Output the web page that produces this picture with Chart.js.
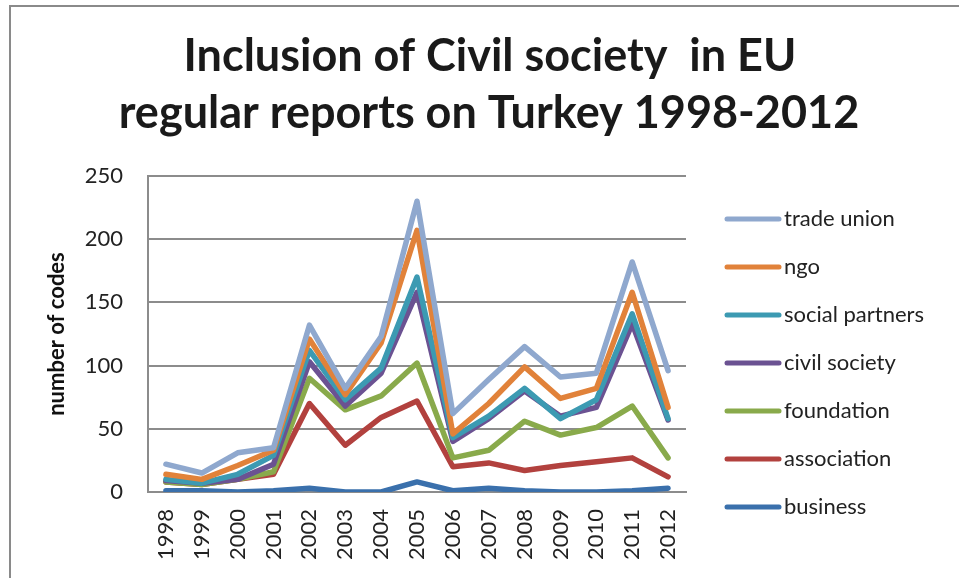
<!DOCTYPE html>
<html>
<head>
<meta charset="utf-8">
<script src="https://cdn.jsdelivr.net/npm/chart.js@4"></script>
<style>
  html, body { margin: 0; padding: 0; background: #fff; }
  #wrap { position: relative; width: 959px; height: 578px; }
  #frame { position: absolute; left: 9px; top: 5px; right: 0; bottom: 0;
           border-left: 2px solid #8a8a8a; border-top: 2px solid #8a8a8a; }
  canvas { position: absolute; left: 0; top: 0; }
</style>
</head>
<body>
<div id="wrap">
  <div id="frame"></div>
  <canvas id="chart" width="959" height="578"></canvas>
</div>
<script>
var years = ['1998', '1999', '2000', '2001', '2002', '2003', '2004', '2005',
             '2006', '2007', '2008', '2009', '2010', '2011', '2012'];

var tradeUnion     = [22, 15, 31, 35, 132, 82, 123, 230, 62, 89, 115, 91, 94, 182, 96];
var ngo            = [14, 10, 21, 33, 121, 77, 118, 207, 46, 70, 99, 74, 82, 158, 67];
var socialPartners = [10, 7, 14, 29, 112, 73, 98, 170, 43, 60, 82, 58, 73, 141, 58];
var civilSociety   = [9, 7, 10, 22, 103, 68, 94, 158, 40, 58, 80, 60, 67, 133, 57];
var foundation     = [8, 6, 10, 16, 90, 65, 76, 102, 27, 33, 56, 45, 51, 68, 27];
var association    = [8, 6, 10, 14, 70, 37, 59, 72, 20, 23, 17, 21, 24, 27, 12];
var business       = [1, 1, 0, 1, 3, 0, 0, 8, 1, 3, 1, 0, 0, 1, 3];

var seriesNames = ['trade union', 'ngo', 'social partners', 'civil society',
                   'foundation', 'association', 'business'];
var seriesData = [tradeUnion, ngo, socialPartners, civilSociety, foundation, association, business];
var seriesColors = ['#8FA8CE', '#E1823A', '#3C9AB2', '#6B5292', '#89AA4B', '#B2413E', '#3A70AC'];

var titleLines = ['Inclusion of Civil society  in EU', 'regular reports on Turkey 1998-2012'];
var yTicks = [0, 50, 100, 150, 200, 250];

var datasets = [];
for (var i = 0; i < seriesNames.length; i++) {
    datasets.push({
        label: seriesNames[i],
        data: seriesData[i],
        borderColor: seriesColors[i],
        backgroundColor: seriesColors[i],
        borderWidth: 5.5,
        pointRadius: 0,
        tension: 0,
        borderCapStyle: 'round',
        borderJoinStyle: 'round'
    });
}

// title centred on the whole picture, not just the plot
var bigTitle = {
    id: 'bigTitle',
    afterDraw: function(chart) {
        var c = chart.ctx;
        c.save();
        c.font = 'bold 45px Lato';
        c.fillStyle = '#1a1a1a';
        c.textAlign = 'center';
        c.textBaseline = 'alphabetic';
        c.fillText(titleLines[0], 490, 71);
        c.fillText(titleLines[1], 489, 128);
        c.restore();
    }
};

// legend drawn by hand so the line samples sit like the original
var sideLegend = {
    id: 'sideLegend',
    afterDraw: function(chart) {
        var c = chart.ctx;
        c.save();
        c.font = '22px Lato';
        c.textBaseline = 'middle';
        c.textAlign = 'left';
        chart.data.datasets.forEach(function(ds, i) {
            var y = 219 + i * 48;
            c.strokeStyle = ds.borderColor;
            c.lineWidth = 5;
            c.lineCap = 'round';
            c.beginPath();
            c.moveTo(727, y);
            c.lineTo(779, y);
            c.stroke();
            c.fillStyle = '#222';
            c.fillText(ds.label, 784, y);
        });
        c.restore();
    }
};

var ctx = document.getElementById('chart').getContext('2d');
var myChart = new Chart(ctx, {
    type: 'line',
    data: { labels: years, datasets: datasets },
    plugins: [bigTitle, sideLegend],
    options: {
        responsive: false,
        animation: false,
        layout: { padding: { left: 14, right: 273, top: 176, bottom: 0 } },
        plugins: {
            legend: { display: false },
            tooltip: { enabled: false },
            title: { display: false }
        },
        scales: {
            x: {
                offset: true,
                grid: { display: false, drawTicks: false },
                border: { display: true, color: '#8c8c8c', width: 2 },
                ticks: {
                    color: '#222',
                    font: { family: 'Lato', size: 22 },
                    minRotation: 90,
                    maxRotation: 90,
                    padding: 17,
                    autoSkip: false
                },
                afterFit: function(scale) { scale.height = 86; }
            },
            y: {
                min: 0,
                max: 250,
                afterBuildTicks: function(scale) {
                    scale.ticks = yTicks.map(function(v) { return { value: v }; });
                },
                grid: { color: '#8c8c8c', lineWidth: 2, drawTicks: false },
                border: { display: true, color: '#8c8c8c', width: 2 },
                ticks: {
                    color: '#222',
                    font: { family: 'Lato', size: 22 },
                    padding: 25
                },
                title: {
                    display: true,
                    text: 'number of codes',
                    color: '#111',
                    font: { family: 'Lato', size: 22, weight: 'bold' },
                    padding: { top: 30, bottom: 0 }
                },
                afterFit: function(scale) { scale.width = 134; }
            }
        }
    }
});
</script>
</body>
</html>
